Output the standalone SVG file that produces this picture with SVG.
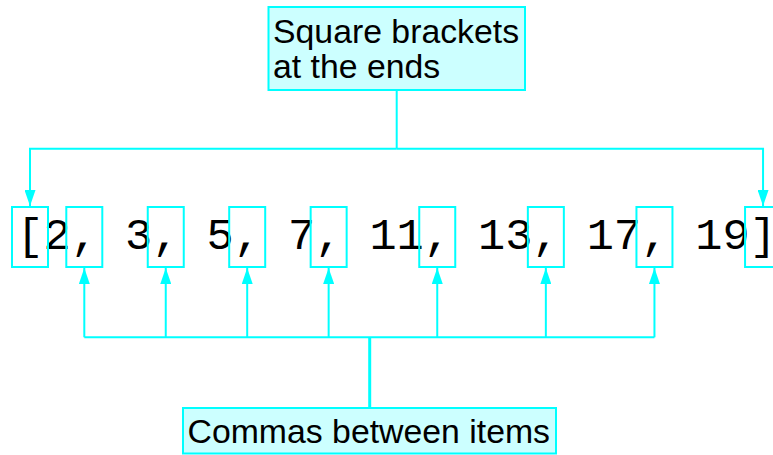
<svg xmlns="http://www.w3.org/2000/svg" width="773" height="455" viewBox="0 0 773 455">
<style>
.lbl{fill:#ccffff;stroke:#00ffff;stroke-width:2}
.hl{fill:none;stroke:#00ffff;stroke-width:2}
.ln{fill:none;stroke:#00ffff;stroke-width:2}
.trunk{fill:none;stroke:#00ffff;stroke-width:3}
.sans{font-family:"Liberation Sans",Arial,sans-serif;font-size:33.8px;fill:#000}
.mono{font-family:"Liberation Mono","Courier New",monospace;font-size:45.25px;fill:#000}
</style>
<defs>
<marker id="ah" viewBox="0 0 16 11" refX="16" refY="5.5" markerWidth="16" markerHeight="11" markerUnits="userSpaceOnUse" orient="auto">
<path d="M0,0 L16,5.5 L0,11 Z" fill="#00ffff"/>
</marker>
</defs>
<rect width="773" height="455" fill="#fff"/>
<g id="list">
<text class="mono" x="16.4" y="248.5" xml:space="preserve">[2, 3, 5, 7, 11, 13, 17, 19]</text>
<rect class="hl" x="12" y="207" width="36" height="60"/>
<rect class="hl" x="66.3" y="207" width="36" height="60"/>
<rect class="hl" x="147.75" y="207" width="36" height="60"/>
<rect class="hl" x="229.2" y="207" width="36" height="60"/>
<rect class="hl" x="310.65" y="207" width="36" height="60"/>
<rect class="hl" x="419.25" y="207" width="36" height="60"/>
<rect class="hl" x="527.85" y="207" width="36" height="60"/>
<rect class="hl" x="636.45" y="207" width="36" height="60"/>
<rect class="hl" x="745.05" y="207" width="36" height="60"/>
</g>
<g id="brackets-label">
<rect class="lbl" x="268.5" y="7" width="256.5" height="83"/>
<text class="sans" x="273" y="43">Square brackets</text>
<text class="sans" x="273" y="78">at the ends</text>
</g>
<g id="commas-label">
<rect class="lbl" x="183" y="408" width="373" height="45.5"/>
<text class="sans" x="187.5" y="442.7">Commas between items</text>
</g>
<g id="connectors">
<path class="ln" d="M396.7,90 V148.7"/>
<path class="ln" d="M396.7,148.7 H30 V206" marker-end="url(#ah)"/>
<path class="ln" d="M396.7,148.7 H763.05 V206" marker-end="url(#ah)"/>
<path class="trunk" d="M369.7,408 V337.3"/>
<path class="ln" d="M84.3,337.3 H654.45"/>
<path class="ln" d="M84.3,337.3 V268" marker-end="url(#ah)"/>
<path class="ln" d="M165.75,337.3 V268" marker-end="url(#ah)"/>
<path class="ln" d="M247.2,337.3 V268" marker-end="url(#ah)"/>
<path class="ln" d="M328.65,337.3 V268" marker-end="url(#ah)"/>
<path class="ln" d="M437.25,337.3 V268" marker-end="url(#ah)"/>
<path class="ln" d="M545.85,337.3 V268" marker-end="url(#ah)"/>
<path class="ln" d="M654.45,337.3 V268" marker-end="url(#ah)"/>
</g>
</svg>
